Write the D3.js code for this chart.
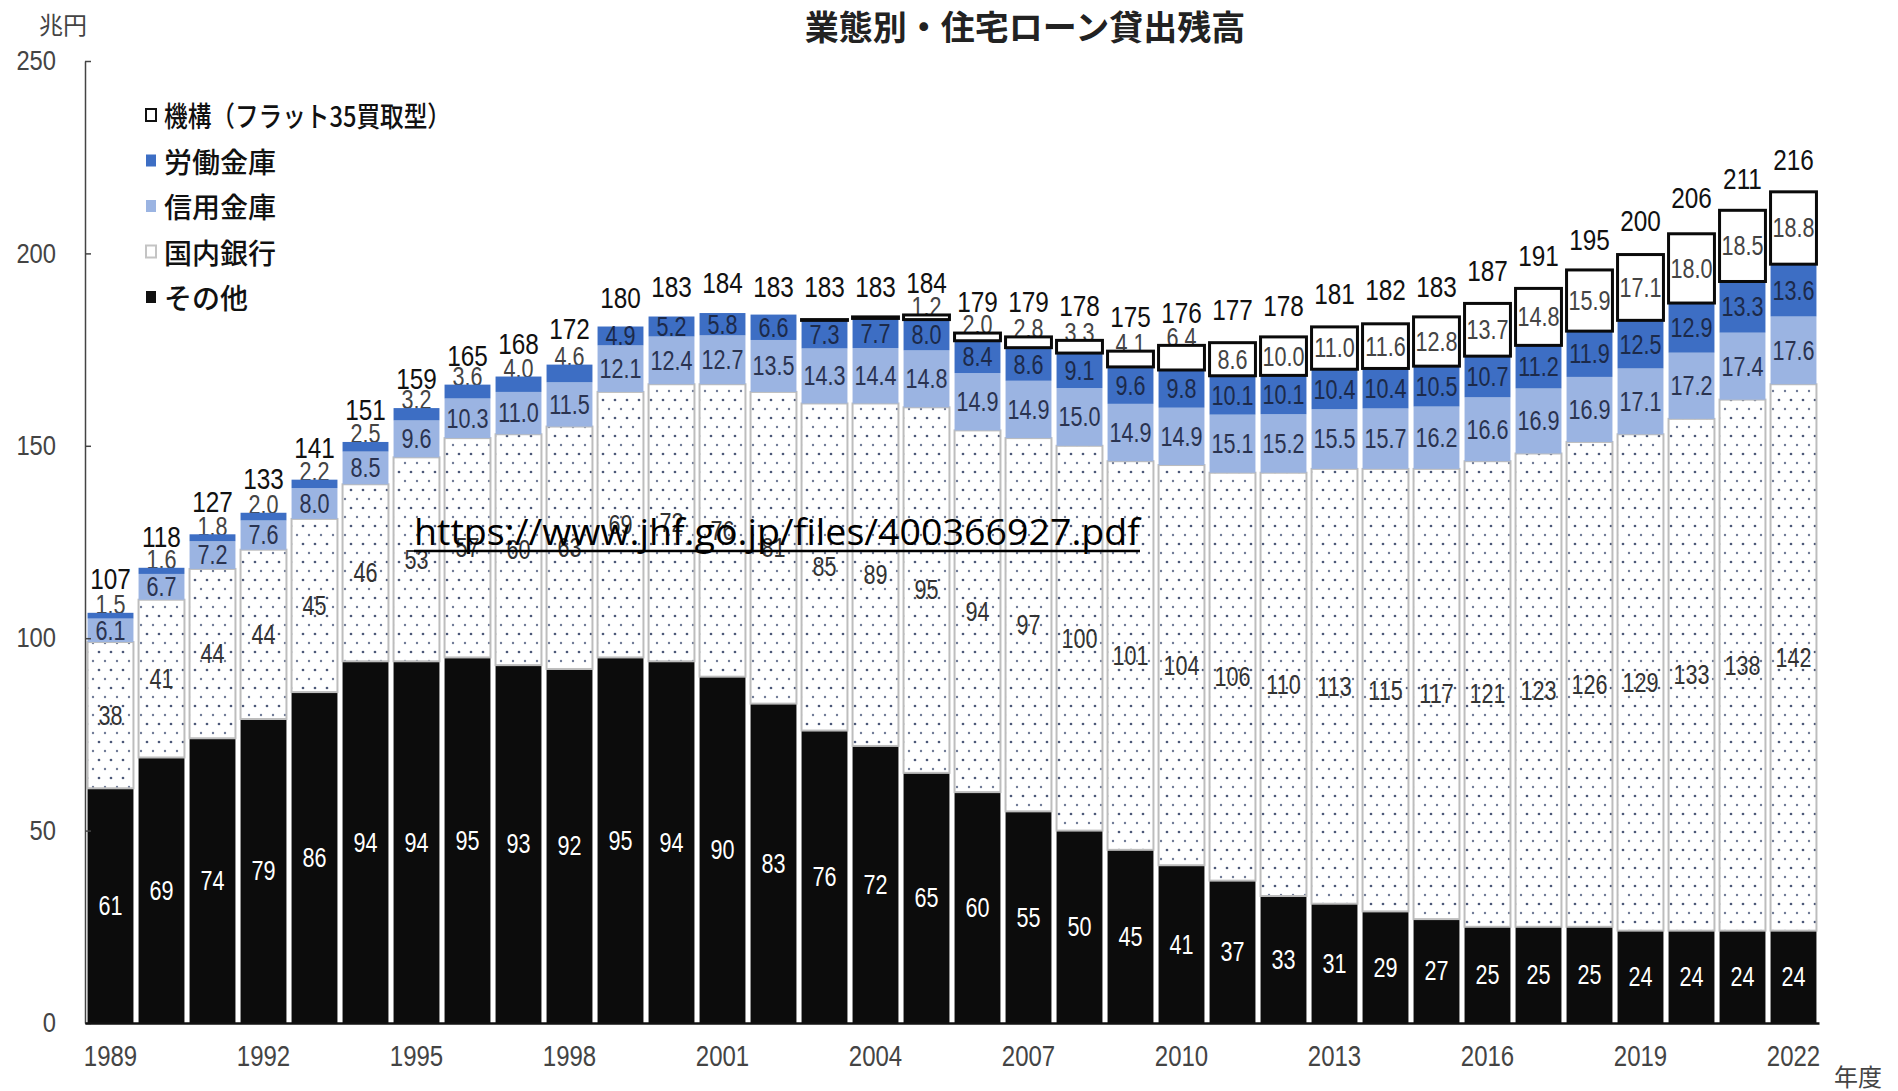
<!DOCTYPE html>
<html>
<head>
<meta charset="utf-8">
<script src="https://cdn.jsdelivr.net/npm/d3@7"></script>
<style>
  body { margin: 0; background: #fff; }
  svg { display: block; }
  .num { font-family: "Liberation Sans", Arial, sans-serif; }
  .jp  { font-family: "Noto Sans CJK JP", sans-serif; }
</style>
</head>
<body>
<svg id="chart" width="1898" height="1091"></svg>
<script>
// 住宅ローン貸出残高（兆円）, fiscal years 1989–2022
const years = [1989, 1990, 1991, 1992, 1993, 1994, 1995, 1996, 1997, 1998, 1999, 2000,
  2001, 2002, 2003, 2004, 2005, 2006, 2007, 2008, 2009, 2010, 2011, 2012,
  2013, 2014, 2015, 2016, 2017, 2018, 2019, 2020, 2021, 2022];

// その他
const other = [61, 69, 74, 79, 86, 94, 94, 95, 93, 92, 95, 94,
  90, 83, 76, 72, 65, 60, 55, 50, 45, 41, 37, 33,
  31, 29, 27, 25, 25, 25, 24, 24, 24, 24];

// 国内銀行
const domestic = [38, 41, 44, 44, 45, 46, 53, 57, 60, 63, 69, 72,
  76, 81, 85, 89, 95, 94, 97, 100, 101, 104, 106, 110,
  113, 115, 117, 121, 123, 126, 129, 133, 138, 142];

// 信用金庫
const shinkin = [6.1, 6.7, 7.2, 7.6, 8.0, 8.5, 9.6, 10.3, 11.0, 11.5, 12.1, 12.4,
  12.7, 13.5, 14.3, 14.4, 14.8, 14.9, 14.9, 15.0, 14.9, 14.9, 15.1, 15.2,
  15.5, 15.7, 16.2, 16.6, 16.9, 16.9, 17.1, 17.2, 17.4, 17.6];

// 労働金庫
const rokin = [1.5, 1.6, 1.8, 2.0, 2.2, 2.5, 3.2, 3.6, 4.0, 4.6, 4.9, 5.2,
  5.8, 6.6, 7.3, 7.7, 8.0, 8.4, 8.6, 9.1, 9.6, 9.8, 10.1, 10.1,
  10.4, 10.4, 10.5, 10.7, 11.2, 11.9, 12.5, 12.9, 13.3, 13.6];

// 機構（フラット35買取型）
const kikou = [0, 0, 0, 0, 0, 0, 0, 0, 0, 0, 0, 0,
  0, 0, 0.2, 0.4, 1.2, 2.0, 2.8, 3.3, 4.1, 6.4, 8.6, 10.0,
  11.0, 11.6, 12.8, 13.7, 14.8, 15.9, 17.1, 18.0, 18.5, 18.8];

// 合計
const totals = [107, 118, 127, 133, 141, 151, 159, 165, 168, 172, 180, 183,
  184, 183, 183, 183, 184, 179, 179, 178, 175, 176, 177, 178,
  181, 182, 183, 187, 191, 195, 200, 206, 211, 216];

const yTicks = [0, 50, 100, 150, 200, 250];
const xTickYears = [1989, 1992, 1995, 1998, 2001, 2004, 2007, 2010, 2013, 2016, 2019, 2022];

const keys = ["other", "domestic", "shinkin", "rokin", "kikou"];
const legendNames = {
  kikou: "機構（フラット35買取型）",
  rokin: "労働金庫",
  shinkin: "信用金庫",
  domestic: "国内銀行",
  other: "その他"
};

const rows = years.map((yr, i) => ({
  year: yr, other: other[i], domestic: domestic[i], shinkin: shinkin[i],
  rokin: rokin[i], kikou: kikou[i], total: totals[i]
}));

const svg = d3.select("#chart");
const plot = { left: 85, right: 1819, top: 61, bottom: 1023 };

const x = d3.scaleBand().domain(years).range([plot.left, plot.right])
  .paddingInner(0.1).paddingOuter(0.05);
const y = d3.scaleLinear().domain([0, 250]).range([plot.bottom, plot.top]);

// dotted fill for 国内銀行
const defs = svg.append("defs");
const pat = defs.append("pattern").attr("id", "dots")
  .attr("patternUnits", "userSpaceOnUse").attr("width", 12).attr("height", 18);
pat.append("rect").attr("width", 12).attr("height", 18).attr("fill", "#fff");
pat.append("circle").attr("cx", 3).attr("cy", 4).attr("r", 1.35).attr("fill", "#4c5878");
pat.append("circle").attr("cx", 9).attr("cy", 13).attr("r", 1.2).attr("fill", "#6f7a96");

const style = {
  other:    { fill: "#0c0c0c", stroke: "none", sw: 0, text: "#ffffff" },
  domestic: { fill: "url(#dots)", stroke: "#bdbdbd", sw: 2, text: "#333333" },
  shinkin:  { fill: "#9bb4e2", stroke: "none", sw: 0, text: "#2a3350" },
  rokin:    { fill: "#3d6ec4", stroke: "none", sw: 0, text: "#1c2a4a" },
  kikou:    { fill: "#ffffff", stroke: "#0a0a0a", sw: 3, text: "#444444" }
};

// condensed numeral text, centred on (cx, cy)
function numText(g, cx, cy, str, size, sx, fill) {
  return g.append("text").attr("class", "num")
    .attr("transform", `translate(${cx},${cy}) scale(${sx},1)`)
    .attr("text-anchor", "middle")
    .attr("dominant-baseline", "central")
    .attr("font-size", size)
    .attr("fill", fill)
    .text(str);
}

const layers = d3.stack().keys(keys)(rows);

// labels that sit just above a thin segment are drawn under the bars
const underLayer = svg.append("g");
const barLayer = svg.append("g");
const labelLayer = svg.append("g");

// minimum segment height (px) for an inside label, per series
const minInside = { other: 10, domestic: 10, shinkin: 10, rokin: 18.5, kikou: 30 };

layers.forEach(layer => {
  const k = layer.key, s = style[k];
  barLayer.append("g").selectAll("rect")
    .data(layer.filter(d => d[1] - d[0] > 0))
    .join("rect")
    .attr("x", d => x(d.data.year))
    .attr("width", x.bandwidth())
    .attr("y", d => y(d[1]))
    .attr("height", d => Math.max(0.8, y(d[0]) - y(d[1])))
    .attr("fill", s.fill)
    .attr("stroke", s.stroke)
    .attr("stroke-width", s.sw);

  layer.forEach(d => {
    const v = d.data[k];
    if (v < 1) return;
    const h = y(d[0]) - y(d[1]);
    const txt = (k === "other" || k === "domestic") ? d3.format("d")(v) : d3.format(".1f")(v);
    const cx = x(d.data.year) + x.bandwidth() / 2;
    const inside = h >= minInside[k];
    numText(inside ? labelLayer : underLayer, cx,
      inside ? y((d[0] + d[1]) / 2) : y(d[1]) - 8,
      txt, 27, 0.8, inside ? s.text : "#444");
  });
});

// 合計 labels
rows.forEach(d => {
  numText(labelLayer, x(d.year) + x.bandwidth() / 2, y(d.total) - 32, d.total, 29, 0.84, "#111");
});

// y axis
const yAxis = svg.append("g").attr("transform", `translate(${plot.left},0)`)
  .call(d3.axisLeft(y).tickValues(yTicks).tickSizeInner(-6).tickSizeOuter(0).tickPadding(29));
yAxis.select(".domain").attr("stroke", "#444").attr("stroke-width", 1.5);
yAxis.selectAll(".tick line").attr("stroke", "#444").attr("stroke-width", 1.5);
yAxis.selectAll(".tick text").attr("class", "num").attr("font-size", 27).attr("fill", "#444")
  .attr("x", -29 / 0.88).attr("transform", "scale(0.88,1)");

// x axis
const xAxis = svg.append("g").attr("transform", `translate(0,${plot.bottom})`)
  .call(d3.axisBottom(x).tickValues(xTickYears).tickSize(0).tickPadding(22));
xAxis.select(".domain").attr("stroke", "#111").attr("stroke-width", 2.5);
xAxis.selectAll(".tick text").attr("class", "num").attr("font-size", 30).attr("fill", "#444")
  .attr("transform", "scale(0.8,1)");

// unit labels and title
svg.append("text").attr("class", "jp").attr("x", 63).attr("y", 23)
  .attr("text-anchor", "middle").attr("dominant-baseline", "central")
  .attr("font-size", 24).attr("fill", "#444").text("兆円");
svg.append("text").attr("class", "jp").attr("x", 1858).attr("y", 1075)
  .attr("text-anchor", "middle").attr("dominant-baseline", "central")
  .attr("font-size", 24).attr("fill", "#444").text("年度");
svg.append("text").attr("class", "jp").attr("x", 1025).attr("y", 25)
  .attr("text-anchor", "middle").attr("dominant-baseline", "central")
  .attr("font-size", 34).attr("font-weight", "bold").attr("fill", "#222")
  .text("業態別・住宅ローン貸出残高");

// legend
const legendKeys = ["kikou", "rokin", "shinkin", "domestic", "other"];
const legendMarker = {
  kikou:    { fill: "#fff", stroke: "#111" },
  rokin:    { fill: "#3d6ec4", stroke: "none" },
  shinkin:  { fill: "#9bb4e2", stroke: "none" },
  domestic: { fill: "#fff", stroke: "#c4c4c4" },
  other:    { fill: "#111", stroke: "none" }
};
const leg = svg.append("g");
legendKeys.forEach((k, i) => {
  const cy = 115 + i * 45.5;
  const m = legendMarker[k];
  leg.append("rect").attr("x", 146).attr("y", cy - 6).attr("width", 10).attr("height", 12)
    .attr("fill", m.fill).attr("stroke", m.stroke).attr("stroke-width", 2);
  const t = leg.append("text").attr("class", "jp").attr("x", 164).attr("y", cy)
    .attr("dominant-baseline", "central").attr("font-size", 28)
    .attr("font-weight", 500).attr("fill", "#111")
    .text(legendNames[k]);
  if (k === "kikou") t.attr("textLength", 287).attr("lengthAdjust", "spacingAndGlyphs");
});

// source link
svg.append("text").attr("x", 414).attr("y", 545)
  .attr("font-family", "'Open Sans', 'Liberation Sans', sans-serif")
  .attr("font-size", 36).attr("fill", "#000")
  .attr("textLength", 726).attr("lengthAdjust", "spacingAndGlyphs")
  .text("https://www.jhf.go.jp/files/400366927.pdf");
svg.append("line").attr("x1", 414).attr("x2", 1140).attr("y1", 551).attr("y2", 551)
  .attr("stroke", "#000").attr("stroke-width", 2.5);
</script>
</body>
</html>
